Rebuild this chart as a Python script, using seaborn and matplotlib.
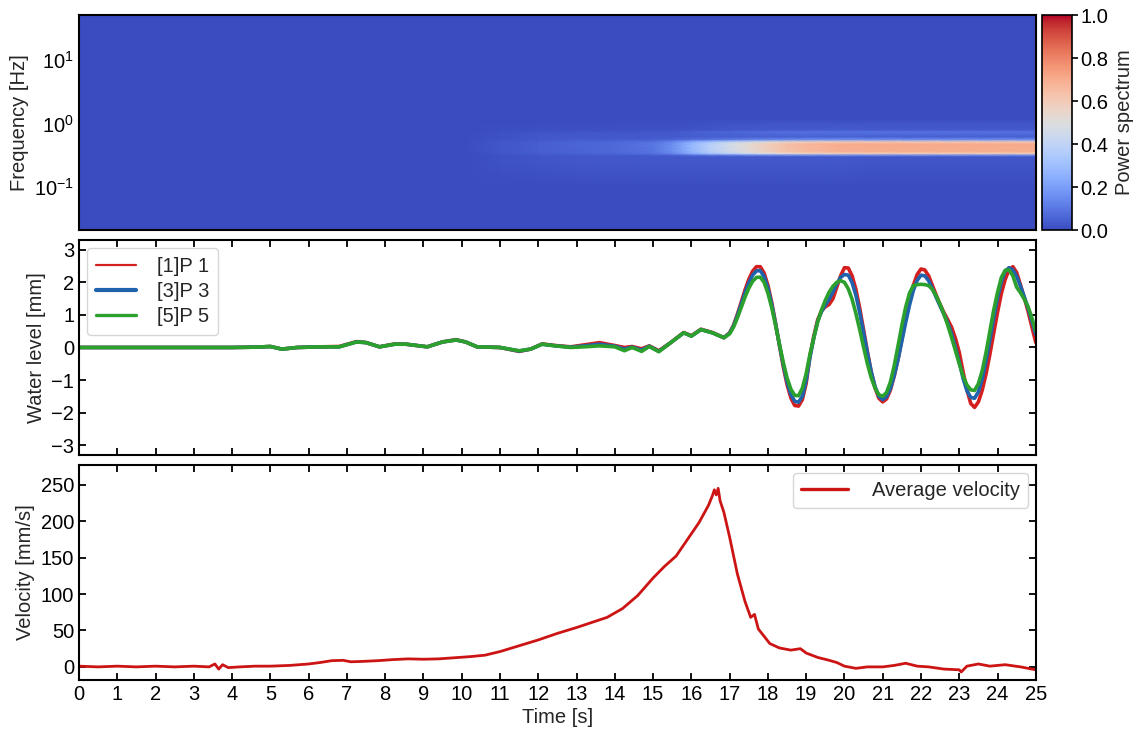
import numpy as np
import pandas as pd
import matplotlib
matplotlib.use("Agg")
import matplotlib.pyplot as plt
from matplotlib.ticker import LogLocator, NullFormatter
import seaborn as sns

# ---------------- data ----------------
# spectrogram
spec_t = [0, 2, 4, 6, 8, 10, 11, 12, 13, 14, 15, 15.5, 16, 16.5, 17, 17.5, 18, 18.5, 19, 20, 21, 22, 23, 24, 25]
band_power = [0, 0, 0, 0, 0, 0, 0.01, 0.02, 0.03, 0.04, 0.07, 0.13, 0.25, 0.35, 0.43, 0.5, 0.56, 0.61,
              0.64, 0.67, 0.68, 0.68, 0.68, 0.68, 0.68]
faint_power = [0, 0, 0, 0, 0, 0, 0.015, 0.025, 0.03, 0.03, 0.03, 0.03, 0.03, 0.03, 0.03, 0.03, 0.03,
               0.03, 0.03, 0.03, 0.025, 0.025, 0.025, 0.025, 0.025]
spec_f = [0.021, 0.1, 0.15, 0.25, 0.3, 0.315, 0.34, 0.37, 0.42, 0.48, 0.515, 0.56, 0.62, 0.7, 0.75,
          0.8, 1.0, 1.2, 5.0, 51.0]
band_profile = [0, 0, 0, 0, 0, 0.15, 0.85, 1.0, 1.0, 1.0, 0.85, 0.2, 0.03, 0.08, 0.1, 0.04, 0.03, 0, 0, 0]
faint_profile = [0, 0, 0.4, 0.8, 0.9, 0.9, 0.9, 0.9, 0.9, 1.0, 1.0, 1.0, 1.0, 0.8, 0.6, 0.3, 0.1, 0, 0, 0]

# water level
t_wl = [0, 2, 4, 4.6, 5.0, 5.3, 5.7, 6.3, 6.8, 7.25, 7.5, 7.85, 8.25, 8.55, 9.1, 9.5, 9.85,
        10.1, 10.4, 11.0, 11.5, 11.8, 12.1, 12.45, 12.85, 13.2, 13.6, 14.0, 14.25, 14.45,
        14.7, 14.9, 15.15, 15.45, 15.8, 16.0, 16.25, 16.55, 16.85,
        17.0, 17.1, 17.2, 17.3, 17.4, 17.5, 17.6, 17.7, 17.8, 17.9,
        18.0, 18.1, 18.2, 18.3, 18.4, 18.5, 18.6, 18.7, 18.8, 18.9,
        19.0, 19.1, 19.2, 19.3, 19.4, 19.5, 19.6, 19.7, 19.8, 19.9,
        20.0, 20.1, 20.2, 20.3, 20.4, 20.5, 20.6, 20.7, 20.8, 20.9,
        21.0, 21.1, 21.2, 21.3, 21.4, 21.5, 21.6, 21.7, 21.8, 21.9,
        22.0, 22.1, 22.2, 22.3, 22.4, 22.5, 22.6, 22.7, 22.8, 22.9,
        23.0, 23.1, 23.2, 23.3, 23.4, 23.5, 23.6, 23.7, 23.8, 23.9,
        24.0, 24.1, 24.2, 24.3, 24.4, 24.5, 24.6, 24.7, 24.8, 24.9, 25.0]
wl_p1 = [0, 0, 0, 0.01, 0.03, -0.05, 0.0, 0.02, 0.03, 0.18, 0.15, 0.02, 0.11, 0.1, 0.02, 0.17,
         0.24, 0.17, 0.02, 0.0, -0.12, -0.05, 0.11, 0.06, 0.02, 0.08, 0.15, 0.06, 0.0, 0.03,
         -0.04, 0.05, -0.1, 0.14, 0.46, 0.36, 0.56, 0.46, 0.3,
         0.45, 0.68, 1.01, 1.38, 1.76, 2.09, 2.34, 2.48, 2.48, 2.29,
         1.91, 1.38, 0.74, 0.07, -0.58, -1.14, -1.55, -1.78, -1.8, -1.6,
         -1.1, -0.25, 0.35, 0.85, 1.12, 1.25, 1.32, 1.5, 1.85, 2.2,
         2.45, 2.44, 2.2, 1.78, 1.2, 0.54, -0.13, -0.75, -1.24, -1.56,
         -1.67, -1.58, -1.31, -0.88, -0.36, 0.25, 0.87, 1.43, 1.91, 2.24,
         2.41, 2.38, 2.2, 1.9, 1.6, 1.32, 1.07, 0.85, 0.62, 0.28,
         -0.15, -0.75, -1.3, -1.72, -1.84, -1.67, -1.31, -0.81, -0.21, 0.44,
         1.08, 1.66, 2.09, 2.38, 2.48, 2.3, 1.92, 1.52, 1.1, 0.62, 0.15]
wl_p3 = [0, 0, 0, 0.01, 0.03, -0.05, 0.0, 0.02, 0.02, 0.17, 0.15, 0.02, 0.1, 0.1, 0.02, 0.17,
         0.23, 0.17, 0.02, 0.0, -0.11, -0.05, 0.1, 0.05, 0.01, 0.05, 0.1, 0.04, -0.05, 0.01,
         -0.08, 0.04, -0.12, 0.14, 0.45, 0.35, 0.55, 0.45, 0.3,
         0.44, 0.66, 0.97, 1.32, 1.67, 1.98, 2.22, 2.35, 2.36, 2.18,
         1.82, 1.32, 0.72, 0.09, -0.52, -1.05, -1.44, -1.65, -1.68, -1.5,
         -1.0, -0.3, 0.3, 0.8, 1.1, 1.3, 1.48, 1.7, 1.95, 2.15,
         2.24, 2.22, 1.99, 1.6, 1.06, 0.45, -0.17, -0.75, -1.2, -1.5,
         -1.6, -1.51, -1.26, -0.86, -0.37, 0.2, 0.77, 1.3, 1.75, 2.06,
         2.22, 2.2, 2.05, 1.8, 1.53, 1.27, 1.02, 0.75, 0.42, 0.0,
         -0.45, -0.95, -1.33, -1.53, -1.56, -1.36, -0.97, -0.41, 0.23, 0.9,
         1.52, 2.01, 2.34, 2.45, 2.38, 2.18, 1.88, 1.55, 1.2, 0.8, 0.4]
wl_p5 = [0, 0, 0, 0.01, 0.03, -0.05, 0.0, 0.02, 0.02, 0.17, 0.15, 0.02, 0.1, 0.1, 0.02, 0.17,
         0.23, 0.17, 0.02, 0.0, -0.1, -0.05, 0.1, 0.05, 0.0, 0.02, 0.05, 0.02, -0.1, 0.0,
         -0.12, 0.03, -0.13, 0.14, 0.45, 0.35, 0.55, 0.45, 0.3,
         0.42, 0.62, 0.9, 1.22, 1.54, 1.82, 2.03, 2.15, 2.16, 2.0,
         1.67, 1.22, 0.68, 0.11, -0.45, -0.93, -1.28, -1.47, -1.48, -1.25,
         -0.8, -0.2, 0.3, 0.78, 1.15, 1.45, 1.7, 1.88, 2.0, 2.05,
         2.0, 1.8, 1.48, 1.04, 0.54, 0.01, -0.5, -0.93, -1.25, -1.45,
         -1.5, -1.38, -1.06, -0.56, 0.05, 0.68, 1.24, 1.67, 1.9, 1.93,
         1.94, 1.93, 1.9, 1.78, 1.58, 1.32, 1.02, 0.68, 0.3, -0.1,
         -0.5, -0.88, -1.15, -1.3, -1.32, -1.11, -0.71, -0.15, 0.5, 1.15,
         1.69, 2.15, 2.37, 2.38, 2.2, 1.85, 1.68, 1.48, 1.25, 0.9, 0.5]

# velocity
t_vel = [0, 0.5, 1, 1.5, 2, 2.5, 3, 3.4, 3.55, 3.65, 3.75, 3.9, 4.2, 4.6, 5.0, 5.5, 6.0, 6.3,
         6.6, 6.9, 7.1, 7.4, 7.8, 8.2, 8.6, 9.0, 9.4, 9.8, 10.2, 10.6, 11.0, 11.5, 12.0, 12.5,
         13.0, 13.4, 13.8, 14.2, 14.6, 15.0, 15.3, 15.6, 15.9, 16.2, 16.45, 16.55, 16.6, 16.65,
         16.7, 16.75, 16.85, 17.0, 17.2, 17.4, 17.55, 17.65, 17.75, 17.9, 18.05, 18.3, 18.6,
         18.85, 19.0, 19.3, 19.6, 19.8, 20.0, 20.3, 20.6, 21.0, 21.3, 21.6, 21.9, 22.2, 22.6,
         23.0, 23.05, 23.2, 23.5, 23.8, 24.2, 24.6, 25.0]
vel = [1, 0, 1, 0, 1, 0, 1, 0, 4, -3, 3, -1, 0, 1, 1, 2, 4, 6,
       8.5, 9, 7, 7.5, 8.5, 10, 11, 10.5, 11, 12.5, 14, 16, 21, 29, 37, 46,
       54, 61, 68, 80, 98, 122, 138, 152, 175, 198, 222, 235, 243, 236,
       245, 228, 212, 178, 128, 90, 68, 72, 52, 42, 32, 26, 23,
       25, 19, 13, 9, 6, 1, -2, 0, 0, 2, 5, 1, 0, -3,
       -4, -7, 1, 4, 1, 3, 0, -4]

# ---------------- style ----------------
sns.set_style("ticks")
plt.rcParams["font.family"] = ["Liberation Sans", "DejaVu Sans"]
FS = 14.5
plt.rcParams.update({
    "font.size": FS,
    "axes.linewidth": 1.5,
    "axes.edgecolor": "black",
    "xtick.color": "black", "ytick.color": "black",
    "xtick.direction": "in", "ytick.direction": "in",
    "xtick.major.size": 5, "ytick.major.size": 5,
    "xtick.minor.size": 2.5, "ytick.minor.size": 2.5,
    "xtick.major.width": 1.3, "ytick.major.width": 1.3,
    "xtick.minor.width": 0.9, "ytick.minor.width": 0.9,
    "xtick.top": True, "ytick.right": True,
    "axes.labelsize": FS, "xtick.labelsize": FS, "ytick.labelsize": FS,
    "axes.labelpad": 4,
})

fig = plt.figure(figsize=(11.37, 7.33), dpi=100)
L, W, H = 0.0695, 0.8415, 0.2933
ax1 = fig.add_axes([L, 0.6862, W, H])
ax2 = fig.add_axes([L, 0.3793, W, H])
ax3 = fig.add_axes([L, 0.0723, W, H])
cax = fig.add_axes([0.9165, 0.6862, 0.0265, H])

# ---- spectrogram ----
Z = (np.outer(np.array(band_profile), np.array(band_power))
     + np.outer(np.array(faint_profile), np.array(faint_power)))
mesh = ax1.pcolormesh(spec_t, spec_f, Z, cmap="coolwarm", vmin=0, vmax=1, shading="gouraud",
                      rasterized=True)
ax1.set_yscale("log")
ax1.set_ylim(0.021, 51)
ax1.set_xlim(0, 25)
ax1.set_xticks(range(0, 26))
ax1.yaxis.set_major_locator(LogLocator(base=10, numticks=10))
ax1.yaxis.set_minor_locator(LogLocator(base=10, subs=np.arange(2, 10), numticks=20))
ax1.yaxis.set_minor_formatter(NullFormatter())
ax1.tick_params(labelbottom=False)
ax1.set_ylabel("Frequency [Hz]")
cb = fig.colorbar(mesh, cax=cax)
cb.set_ticks([0, 0.2, 0.4, 0.6, 0.8, 1.0])
cb.ax.tick_params(direction="out", length=4, width=1.2, pad=2, right=True, left=False,
                  labelsize=FS)
cb.set_label("Power spectrum", fontsize=FS, labelpad=5)
cb.outline.set_linewidth(1.2)

# ---- water level ----
df_wl = pd.DataFrame({"t": t_wl, "[1]P 1": wl_p1, "[3]P 3": wl_p3, "[5]P 5": wl_p5})
cols = {"[1]P 1": "#d41f1f", "[3]P 3": "#1f63ad", "[5]P 5": "#2ca02c"}
for name in ["[1]P 1", "[3]P 3", "[5]P 5"]:
    sns.lineplot(data=df_wl, x="t", y=name, ax=ax2, color=cols[name], lw=2.6, label=name)
ax2.set_xlim(0, 25)
ax2.set_ylim(-3.3, 3.3)
ax2.set_yticks([-3, -2, -1, 0, 1, 2, 3])
ax2.set_xticks(range(0, 26))
ax2.tick_params(labelbottom=False)
ax2.set_xlabel("")
ax2.set_ylabel("Water level [mm]")
leg = ax2.legend(loc="upper left", frameon=True, fontsize=FS, handlelength=2.0,
                 borderpad=0.45, labelspacing=0.3, handletextpad=1.0, borderaxespad=0.4)
for ln, w in zip(leg.get_lines(), [1.6, 3.0, 2.4]):
    ln.set_linewidth(w)

# ---- velocity ----
df_v = pd.DataFrame({"t": t_vel, "v": vel})
sns.lineplot(data=df_v, x="t", y="v", ax=ax3, color="#cc1414", lw=2.0, label="Average velocity")
ax3.set_xlim(0, 25)
ax3.set_ylim(-18, 277)
ax3.set_yticks([0, 50, 100, 150, 200, 250])
ax3.set_xticks(range(0, 26))
ax3.set_xlabel("Time [s]", labelpad=3)
ax3.set_ylabel("Velocity [mm/s]")
leg3 = ax3.legend(loc="upper right", frameon=True, fontsize=FS, handlelength=2.3,
                  handletextpad=1.2, borderaxespad=0.4)
leg3.get_lines()[0].set_linewidth(2.4)

fig.savefig("out.png", dpi=100)
